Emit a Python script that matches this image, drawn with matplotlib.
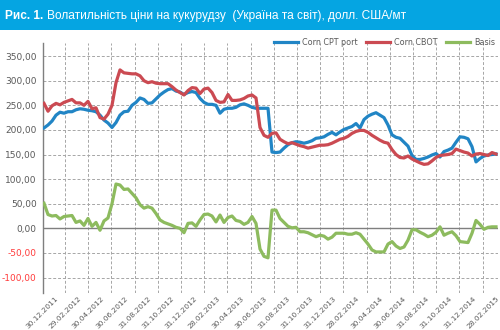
import numpy as np
import matplotlib
matplotlib.use('Agg')
import matplotlib.pyplot as plt
from matplotlib.patches import Rectangle
from matplotlib import ticker

# values, one point every ~10 days
cpt = [204, 210, 218, 230, 236, 234, 237, 237, 241, 243, 242, 240, 239, 237, 230, 220, 214, 205, 215, 230,
       237, 238, 250, 256, 265, 262, 254, 255, 263, 271, 277, 282, 284, 279, 277, 272, 276, 278, 276, 264,
       256, 252, 252, 250, 234, 242, 244, 244, 246, 251, 253, 250, 246, 244, 244, 244, 244, 155, 154, 155,
       163, 170, 174, 176, 175, 173, 175, 178, 183, 184, 186, 191, 195, 190, 196, 201, 204, 207, 213, 204,
       221, 228, 232, 235, 230, 225, 210, 190, 185, 183, 175, 167, 148, 140, 140, 142, 145, 149, 152, 145,
       156, 159, 163, 175, 186, 185, 182, 166, 135, 142, 147, 149, 150, 151]
cbot = [254, 238, 249, 254, 251, 256, 259, 262, 255, 255, 250, 258, 243, 245, 225, 222, 232, 250, 296, 322,
        316, 315, 314, 314, 310, 300, 296, 298, 295, 294, 294, 294, 288, 281, 276, 271, 280, 286, 285, 274,
        283, 285, 276, 260, 256, 257, 272, 260, 260, 261, 264, 269, 271, 265, 205, 189, 185, 193, 194, 181,
        176, 172, 174, 171, 168, 166, 163, 165, 167, 169, 169, 170, 173, 177, 181, 183, 187, 193, 197, 199,
        199, 195, 189, 184, 179, 175, 173, 160, 150, 144, 143, 147, 141, 137, 133, 130, 131, 137, 144, 148,
        149, 150, 152, 161, 158, 155, 153, 147, 151, 152, 150, 148, 154, 151]
basis = [51, 28, 25, 26, 19, 24, 25, 26, 12, 15, 6, 20, 4, 12, -4, 15, 21, 50, 90, 88,
         79, 80, 71, 62, 48, 41, 44, 41, 30, 17, 12, 9, 6, 2, 0, -9, 10, 11, 4, 17,
         28, 29, 25, 13, 27, 12, 22, 25, 16, 14, 8, 12, 24, 10, -42, -57, -60, 37, 37, 20,
         12, 4, 1, 2, -7, -7, -9, -13, -17, -14, -16, -22, -18, -10, -10, -10, -12, -12, -9, -12,
         -22, -32, -44, -48, -48, -48, -32, -27, -36, -41, -38, -24, -3, -3, -8, -12, -17, -14, -8, 3,
         -14, -10, -7, -15, -27, -28, -29, -10, 16, 8, -2, 2, 3, 3]
date_labels = ['30.12.2011', '29.02.2012', '30.04.2012', '30.06.2012', '31.08.2012', '31.10.2012',
               '31.12.2012', '28.02.2013', '30.04.2013', '30.06.2013', '31.08.2013', '31.10.2013',
               '31.12.2013', '28.02.2014', '30.04.2014', '30.06.2014', '31.08.2014', '31.10.2014',
               '31.12.2014', '28.02.2015']
yticks = [-100, -50, 0, 50, 100, 150, 200, 250, 300, 350]

t = np.arange(len(cpt))

c_blue = '#2185C5'
c_red = '#CB4A52'
c_green = '#8DBB5E'
grey = '#595959'

fig = plt.figure(figsize=(5, 3.3), dpi=100)
# title band
fig.patches.append(Rectangle((0, 1 - 30 / 330), 1, 30 / 330, transform=fig.transFigure,
                             facecolor='#05A5E2', edgecolor='none', zorder=0))
title_font = ['Liberation Sans', 'DejaVu Sans']
t1 = fig.text(5 / 500, 1 - 16 / 330, 'Рис. 1.', color='white', fontsize=8.6, weight='bold',
              va='center', family=title_font)
r = fig.canvas.get_renderer()
bb = t1.get_window_extent(r)
fig.text((bb.x1 + 4) / 500, 1 - 16 / 330,
         'Волатильність ціни на кукурудзу  (Україна та світ), долл. США/мт',
         color='white', fontsize=8.6, va='center', family=title_font)

ax = fig.add_axes([43 / 500, 1 - 293 / 330, 455.4 / 500, 250 / 330])
ax.plot(t, cpt, color=c_blue, lw=2.3, label='Corn CPT port', solid_joinstyle='round', zorder=3)
ax.plot(t, cbot, color=c_red, lw=2.3, label='Corn CBOT', solid_joinstyle='round', zorder=4)
ax.plot(t, basis, color=c_green, lw=2.3, label='Basis', solid_joinstyle='round', zorder=5)
ax.axhline(0, color='#7F7F7F', lw=1.0, zorder=2)

ax.set_xlim(-0.25, 113.6)
ax.set_ylim(-131.5, 376.7)

ax.set_yticks(yticks)
ax.yaxis.set_major_formatter(ticker.FuncFormatter(lambda v, p: ('%.2f' % v).replace('.', ',')))
ax.tick_params(axis='y', length=0, pad=4.5, labelsize=6.5, labelcolor=grey)
for lab, v in zip(ax.get_yticklabels(), yticks):
    if v < 0:
        lab.set_color('#FF3B3B')

step = 5.8
ax.set_xticks([3.25 + step * k for k in range(len(date_labels))])
ax.set_xticklabels(date_labels, rotation=45, ha='right', va='center', rotation_mode='anchor',
                   fontsize=5.3, color=grey)
ax.set_xticks([step * k - 0.55 for k in range(1, len(date_labels))], minor=True)
ax.tick_params(axis='x', which='both', length=0, pad=3)

ax.grid(True, axis='y', which='major', color='#A6A6A6', lw=0.7, ls=(0, (3, 2)), zorder=1)
ax.grid(True, axis='x', which='minor', color='#A6A6A6', lw=0.7, ls=(0, (3, 2)), zorder=1)
for s in ['top', 'right', 'bottom']:
    ax.spines[s].set_visible(False)
ax.spines['left'].set_color('#7F7F7F')
ax.spines['left'].set_linewidth(1.0)

fig.legend(loc='center right', bbox_to_anchor=(495 / 500, 1 - 42.5 / 330), ncol=3, frameon=False,
           fontsize=5.8, handlelength=3.0, handletextpad=0.5, columnspacing=1.0,
           borderpad=0, borderaxespad=0, labelcolor=grey)

fig.savefig('out.png', dpi=100)
